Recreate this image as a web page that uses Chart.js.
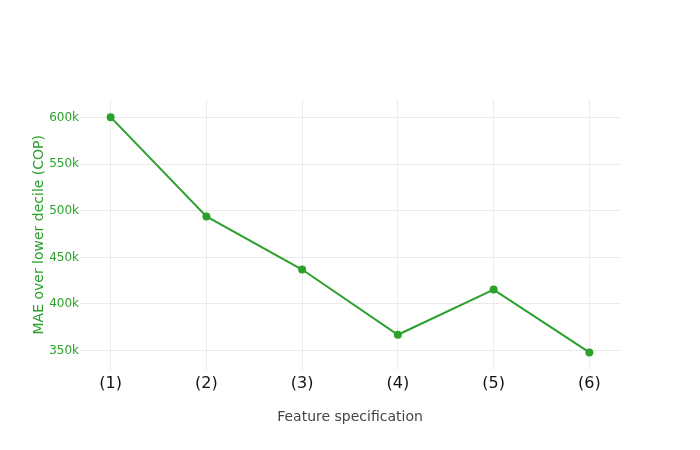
<!DOCTYPE html>
<html>
<head>
<meta charset="utf-8">
<script src="https://cdn.jsdelivr.net/npm/chart.js@4"></script>
<style>
  html, body { margin: 0; padding: 0; background: #fff; }
  #wrap { width: 700px; height: 450px; }
</style>
</head>
<body>
<div id="wrap"><canvas id="maeChart"></canvas></div>
<script>
const specLabels = ['(1)', '(2)', '(3)', '(4)', '(5)', '(6)'];
const specPositions = [1, 2, 3, 4, 5, 6];
const maeValues = [600500, 494000, 437000, 367000, 415500, 348000];
const yTickValues = [350000, 400000, 450000, 500000, 550000, 600000];

const green = '#2ca02c';
const ctx = document.getElementById('maeChart').getContext('2d');

new Chart(ctx, {
  type: 'line',
  data: {
    datasets: [{
      label: 'MAE',
      data: specPositions.map((p, i) => ({ x: p, y: maeValues[i] })),
      borderColor: green,
      backgroundColor: green,
      borderWidth: 2,
      pointRadius: 3,
      pointHoverRadius: 3,
      tension: 0
    }]
  },
  options: {
    responsive: true,
    maintainAspectRatio: false,
    animation: false,
    layout: { padding: { top: 100, right: 80, left: 0, bottom: 0 } },
    plugins: {
      legend: { display: false },
      tooltip: { enabled: false }
    },
    scales: {
      x: {
        type: 'linear',
        min: 0.68,
        max: 6.32,
        afterBuildTicks: axis => { axis.ticks = specPositions.map(v => ({ value: v })); },
        afterFit: axis => { axis.height = 80.5; },
        border: { display: false },
        grid: { color: '#ebebeb', drawTicks: false },
        ticks: {
          padding: 5,
          color: '#111',
          font: { family: 'DejaVu Sans', size: 16 },
          maxRotation: 0,
          callback: v => specLabels[specPositions.indexOf(v)]
        },
        title: {
          display: true,
          text: 'Feature specification',
          color: '#444',
          font: { family: 'DejaVu Sans', size: 14 },
          padding: { top: 0, bottom: 24 }
        }
      },
      y: {
        min: 329700,
        max: 618900,
        afterBuildTicks: axis => { axis.ticks = yTickValues.map(v => ({ value: v })); },
        afterFit: axis => { axis.width = 80; },
        border: { display: false },
        grid: { color: '#ebebeb', drawTicks: false },
        ticks: {
          padding: 1,
          color: green,
          font: { family: 'DejaVu Sans', size: 12 },
          callback: v => (v / 1000) + 'k'
        },
        title: {
          display: true,
          text: 'MAE over lower decile (COP)',
          color: green,
          font: { family: 'DejaVu Sans', size: 14 },
          padding: { top: 31, bottom: 0 }
        }
      }
    }
  }
});
</script>
</body>
</html>
